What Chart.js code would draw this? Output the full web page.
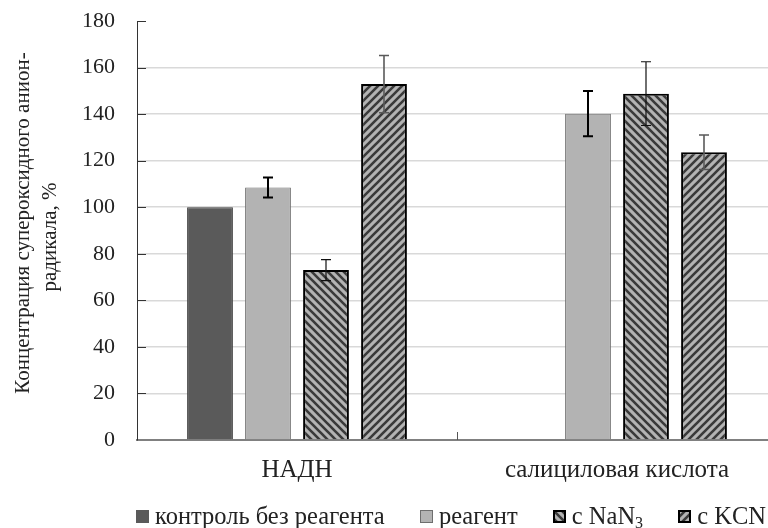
<!DOCTYPE html>
<html>
<head>
<meta charset="utf-8">
<script src="https://cdn.jsdelivr.net/npm/chart.js@4"></script>
<style>
  html, body { margin: 0; padding: 0; background: #fff; overflow: hidden; }
  #wrap { position: relative; width: 790px; height: 528px; }
  #leyenda {
    position: absolute; left: 136px; top: 503px; width: 630px;
    display: flex; justify-content: space-between; align-items: center;
    font-family: "Liberation Serif", "Times New Roman", serif; font-size: 24.5px;
    line-height: 26px; color: #222; white-space: nowrap;
  }
  #leyenda span.item { display: flex; align-items: center; }
  #leyenda canvas { margin-right: 6px; }
  #leyenda sub { font-size: 16px; line-height: 0; vertical-align: -4px; }
</style>
</head>
<body>
<div id="wrap">
  <canvas id="grafico" width="790" height="528"></canvas>
  <div id="leyenda"></div>
</div>
<script>
// datos
var categorias = ['НАДН', 'салициловая кислота'];
var series = ['контроль без реагента', 'реагент', 'с NaN<sub>3</sub>', 'с KCN'];
var control = [100, null];
var reagente = [108.5, 140.2];
var conNaN3 = [73, 148.8];
var conKCN = [152.9, 123.6];
var errReagente = [4.3, 9.7];
var errNaN3 = [4.5, 13.7];
var errKCN = [12.3, 7.4];
var yMin = 0, yMax = 180, yPaso = 20;
var tituloY = ['Концентрация супероксидного анион-', 'радикала, %'];

var fuente = '"Liberation Serif", "Times New Roman", serif';

// patrón rayado para las barras con inhibidor
function rayado(direccion) {
  var c = document.createElement('canvas');
  c.width = 8; c.height = 8;
  var g = c.getContext('2d');
  g.fillStyle = '#b3b3b3';
  g.fillRect(0, 0, 8, 8);
  g.strokeStyle = '#3a3a3a';
  g.lineWidth = 2.6;
  g.beginPath();
  if (direccion === 'abajo') {
    // líneas \\\
    g.moveTo(-2, -2); g.lineTo(10, 10);
    g.moveTo(-2, 6); g.lineTo(2, 10);
    g.moveTo(6, -2); g.lineTo(10, 2);
  } else {
    // líneas ///
    g.moveTo(-2, 10); g.lineTo(10, -2);
    g.moveTo(-2, 2); g.lineTo(2, -2);
    g.moveTo(6, 10); g.lineTo(10, 6);
  }
  g.stroke();
  return g.createPattern(c, 'repeat');
}

// barras de error
var errores = [null, errReagente, errNaN3, errKCN];
var estiloError = [null, { w: 2, c: '#000' }, { w: 1.2, c: '#111' }, { w: 1.6, c: '#5a5a5a' }];
var pluginErrores = {
  id: 'errores',
  afterDatasetsDraw: function (chart) {
    var ctx = chart.ctx;
    var y = chart.scales.y;
    chart.data.datasets.forEach(function (ds, i) {
      if (!errores[i]) return;
      var meta = chart.getDatasetMeta(i);
      meta.data.forEach(function (bar, j) {
        var v = ds.data[j];
        if (v === null) return;
        var e = errores[i][j];
        var yt = y.getPixelForValue(v + e);
        var yb = y.getPixelForValue(v - e);
        ctx.save();
        ctx.strokeStyle = estiloError[i].c;
        ctx.lineWidth = estiloError[i].w;
        ctx.beginPath();
        ctx.moveTo(bar.x, yt); ctx.lineTo(bar.x, yb);
        ctx.moveTo(bar.x - 5, yt); ctx.lineTo(bar.x + 5, yt);
        ctx.moveTo(bar.x - 5, yb); ctx.lineTo(bar.x + 5, yb);
        ctx.stroke();
        ctx.restore();
      });
    });
  }
};

// marcas hacia dentro y título del eje Y
var pluginEjes = {
  id: 'ejes',
  afterDraw: function (chart) {
    var ctx = chart.ctx;
    var a = chart.chartArea;
    var y = chart.scales.y;
    var x = chart.scales.x;
    ctx.save();
    ctx.strokeStyle = '#333';
    ctx.lineWidth = 1;
    ctx.beginPath();
    for (var v = yMin + yPaso; v <= yMax; v += yPaso) {
      var py = Math.round(y.getPixelForValue(v)) + 0.5;
      ctx.moveTo(a.left, py); ctx.lineTo(a.left + 9, py);
    }
    ctx.stroke();
    ctx.strokeStyle = '#555';
    ctx.beginPath();
    var px = Math.round((x.getPixelForValue(0) + x.getPixelForValue(1)) / 2) + 0.5;
    ctx.moveTo(px, a.bottom); ctx.lineTo(px, a.bottom - 8);
    ctx.stroke();

    var centros = [[23, 223], [50, 237]];
    for (var k = 0; k < tituloY.length; k++) {
      ctx.save();
      ctx.fillStyle = '#222';
      ctx.font = '21px ' + fuente;
      ctx.textAlign = 'center';
      ctx.textBaseline = 'middle';
      ctx.translate(centros[k][0], centros[k][1]);
      ctx.rotate(-Math.PI / 2);
      ctx.fillText(tituloY[k], 0, 0);
      ctx.restore();
    }
    ctx.restore();
  }
};

var ctx = document.getElementById('grafico').getContext('2d');
var grafico = new Chart(ctx, {
  type: 'bar',
  data: {
    labels: categorias,
    datasets: [
      { label: series[0], data: control, backgroundColor: '#5a5a5a', borderColor: '#3c3c3c', borderWidth: 1 },
      { label: series[1], data: reagente, backgroundColor: '#b3b3b3', borderColor: '#6e6e6e', borderWidth: 1 },
      { label: series[2], data: conNaN3, backgroundColor: rayado('abajo'), borderColor: '#000', borderWidth: 2 },
      { label: series[3], data: conKCN, backgroundColor: rayado('arriba'), borderColor: '#000', borderWidth: 2 }
    ]
  },
  options: {
    responsive: false,
    animation: false,
    devicePixelRatio: 1,
    categoryPercentage: 0.725,
    barPercentage: 0.79,
    layout: { padding: { top: 21, right: 13, left: 0, bottom: 0 } },
    scales: {
      x: {
        grid: { display: false },
        border: { color: '#808080', width: 2 },
        ticks: { color: '#222', font: { family: fuente, size: 25 }, padding: 7, maxRotation: 0 },
        afterFit: function (s) { s.height = 88; s.paddingLeft = 0; s.paddingRight = 0; }
      },
      y: {
        min: yMin,
        max: yMax,
        ticks: { stepSize: yPaso, color: '#222', font: { family: fuente, size: 22 }, padding: 22 },
        grid: {
          drawTicks: false,
          color: function (c) { return (c.tick.value === yMax || c.tick.value === yMin) ? 'rgba(0,0,0,0)' : '#d9d9d9'; },
          lineWidth: 1.5
        },
        border: { color: '#333', width: 1 },
        afterFit: function (s) { s.width = 137; s.paddingTop = 0; s.paddingBottom = 0; }
      }
    },
    plugins: {
      legend: { display: false },
      tooltip: { enabled: false }
    }
  },
  plugins: [pluginErrores, pluginEjes]
});

// leyenda en HTML (para el subíndice de NaN3)
var leyenda = document.getElementById('leyenda');
grafico.data.datasets.forEach(function (ds, i) {
  var item = document.createElement('span');
  item.className = 'item';
  var muestra = document.createElement('canvas');
  muestra.width = 13; muestra.height = 13;
  var g = muestra.getContext('2d');
  g.fillStyle = ds.backgroundColor;
  g.fillRect(0, 0, 13, 13);
  if (ds.borderWidth > 1) {
    g.strokeStyle = ds.borderColor;
    g.lineWidth = 2;
    g.strokeRect(1, 1, 11, 11);
  } else if (i === 1) {
    g.strokeStyle = ds.borderColor;
    g.lineWidth = 1;
    g.strokeRect(0.5, 0.5, 12, 12);
  }
  item.appendChild(muestra);
  var texto = document.createElement('span');
  texto.innerHTML = series[i];
  item.appendChild(texto);
  leyenda.appendChild(item);
});
</script>
</body>
</html>
